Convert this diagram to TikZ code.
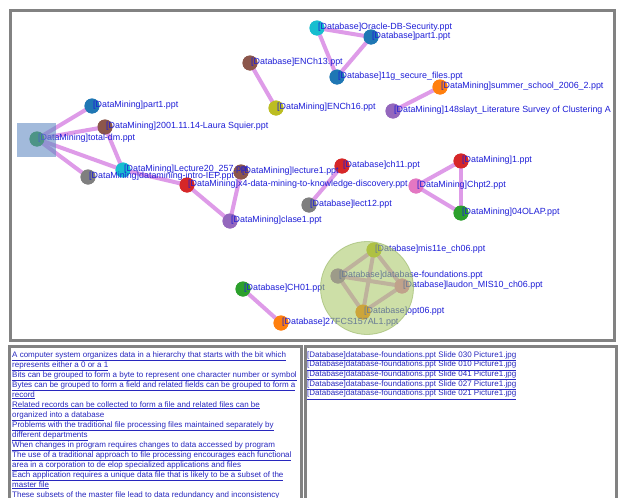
\documentclass[tikz,border=0pt]{standalone}
\usepackage{fontspec}
\setmainfont{Liberation Sans}
\definecolor{cblue}{HTML}{1F77B4}
\definecolor{cbrown}{HTML}{8C564B}
\definecolor{cgreen}{HTML}{2CA02C}
\definecolor{colive}{HTML}{BCBD22}
\definecolor{ccyan}{HTML}{17BECF}
\definecolor{corange}{HTML}{FF7F0E}
\definecolor{cpurple}{HTML}{9467BD}
\definecolor{cred}{HTML}{D62728}
\definecolor{cgray}{HTML}{7F7F7F}
\definecolor{cpink}{HTML}{E377C2}
\definecolor{framegray}{RGB}{130,130,130}
\definecolor{edgecol}{RGB}{222,155,232}
\definecolor{labelblue}{RGB}{30,30,215}
\definecolor{linkblue}{RGB}{40,40,190}
\definecolor{sqfill}{RGB}{100,140,195}
\definecolor{circfill}{RGB}{165,198,95}
\definecolor{circdraw}{RGB}{150,180,100}
\begin{document}
\begin{tikzpicture}[x=1pt,y=-1pt,
  frame/.style={draw=framegray,line width=3pt},
  edge/.style={draw=edgecol,line width=4pt,line cap=round},
  dot/.style={circle,minimum size=15pt,inner sep=0pt,fill=#1},
  lbl/.style={anchor=base west,inner sep=0pt,text=labelblue,font=\fontsize{8.9}{10}\selectfont},
  link/.style={anchor=base west,inner sep=0pt,text=linkblue,font=\fontsize{8}{10}\selectfont}]
\useasboundingbox (0,0) rectangle (619,498);
\fill[white] (0,0) rectangle (619,498);
% panels
\draw[frame] (10,10) rectangle (614,340);
\draw[frame] (9,346) rectangle (301,505);
\draw[frame] (305,346) rectangle (616,505);
\begin{scope}
\clip (12,12) rectangle (612,338);
% nodes
\node[dot=cgreen] (tdm) at (37,139) {};
\node[dot=cblue] (p1dm) at (92,106) {};
\node[dot=cbrown] (laura) at (105,127) {};
\node[dot=cbrown] (enc13) at (250,63) {};
\node[dot=colive] (enc16) at (276,108) {};
\node[dot=ccyan] (oracle) at (317,28) {};
\node[dot=cblue] (p1db) at (371,37) {};
\node[dot=cblue] (g11) at (337,77) {};
\node[dot=corange] (summer) at (440,87) {};
\node[dot=cpurple] (slayt) at (393,111) {};
\node[dot=ccyan] (lec20) at (123,170) {};
\node[dot=cgray] (intro) at (88,177) {};
\node[dot=cbrown] (lec1) at (241,172) {};
\node[dot=cred] (x4) at (187,185) {};
\node[dot=cpurple] (clase1) at (230,221) {};
\node[dot=cred] (ch11) at (342,166) {};
\node[dot=cgray] (lect12) at (309,205) {};
\node[dot=cpink] (chpt2) at (416,186) {};
\node[dot=cred] (one) at (461,161) {};
\node[dot=cgreen] (olap) at (461,213) {};
\node[dot=colive] (mis) at (374,250) {};
\node[dot=cpurple] (dbf) at (338,276) {};
\node[dot=cpink] (laudon) at (402,286) {};
\node[dot=corange] (opt) at (363,312) {};
\node[dot=cgreen] (ch01) at (243,289) {};
\node[dot=corange] (fcs) at (281,323) {};
% edges
\path[edge] (tdm.center) -- (p1dm.center);
\path[edge] (tdm.center) -- (laura.center);
\path[edge] (tdm.center) -- (lec20.center);
\path[edge] (tdm.center) -- (intro.center);
\path[edge] (laura.center) -- (lec20.center);
\path[edge] (lec20.center) -- (x4.center);
\path[edge] (x4.center) -- (clase1.center);
\path[edge] (clase1.center) -- (lec1.center);
\path[edge] (enc13.center) -- (enc16.center);
\path[edge] (oracle.center) -- (p1db.center);
\path[edge] (oracle.center) -- (g11.center);
\path[edge] (p1db.center) -- (g11.center);
\path[edge] (summer.center) -- (slayt.center);
\path[edge] (ch11.center) -- (lect12.center);
\path[edge] (chpt2.center) -- (one.center);
\path[edge] (chpt2.center) -- (olap.center);
\path[edge] (one.center) -- (olap.center);
\path[edge] (ch01.center) -- (fcs.center);
\path[edge] (mis.center) -- (dbf.center);
\path[edge] (mis.center) -- (laudon.center);
\path[edge] (mis.center) -- (opt.center);
\path[edge] (dbf.center) -- (laudon.center);
\path[edge] (dbf.center) -- (opt.center);
\path[edge] (laudon.center) -- (opt.center);
% redraw dots on top of edges
\foreach \n/\c in {tdm/cgreen,p1dm/cblue,laura/cbrown,enc13/cbrown,enc16/colive,oracle/ccyan,p1db/cblue,g11/cblue,summer/corange,slayt/cpurple,lec20/ccyan,intro/cgray,lec1/cbrown,x4/cred,clase1/cpurple,ch11/cred,lect12/cgray,chpt2/cpink,one/cred,olap/cgreen,mis/colive,dbf/cpurple,laudon/cpink,opt/corange,ch01/cgreen,fcs/corange}
  \fill[\c] (\n.center) circle (7.5);
% labels
\node[lbl] (ltdm) at ([xshift=1pt,yshift=-1.5pt]tdm.center) {[DataMining]total-dm.ppt};
\node[lbl] (lp1dm) at ([xshift=1pt,yshift=-1.5pt]p1dm.center) {[DataMining]part1.ppt};
\node[lbl] (llaura) at ([xshift=1pt,yshift=-1.5pt]laura.center) {[DataMining]2001.11.14-Laura Squier.ppt};
\node[lbl] (lenc13) at ([xshift=1pt,yshift=-1.5pt]enc13.center) {[Database]ENCh13.ppt};
\node[lbl] (lenc16) at ([xshift=1pt,yshift=-1.5pt]enc16.center) {[DataMining]ENCh16.ppt};
\node[lbl] (loracle) at ([xshift=1pt,yshift=-1.5pt]oracle.center) {[Database]Oracle-DB-Security.ppt};
\node[lbl] (lp1db) at ([xshift=1pt,yshift=-1.5pt]p1db.center) {[Database]part1.ppt};
\node[lbl] (lg11) at ([xshift=1pt,yshift=-1.5pt]g11.center) {[Database]11g\_secure\_files.ppt};
\node[lbl] (lsummer) at ([xshift=1pt,yshift=-1.5pt]summer.center) {[DataMining]summer\_school\_2006\_2.ppt};
\node[lbl] (lslayt) at ([xshift=1pt,yshift=-1.5pt]slayt.center) {[DataMining]148slayt\_Literature Survey of Clustering A};
\node[lbl] (llec20) at ([xshift=1pt,yshift=-1.5pt]lec20.center) {[DataMining]Lecture20\_257.ppt};
\node[lbl] (lintro) at ([xshift=1pt,yshift=-1.5pt]intro.center) {[DataMining]datamining-intro-IEP.ppt};
\node[lbl] (llec1) at ([xshift=1pt,yshift=-1.5pt]lec1.center) {[DataMining]lecture1.ppt};
\node[lbl] (lx4) at ([xshift=1pt,yshift=-1.5pt]x4.center) {[DataMining]x4-data-mining-to-knowledge-discovery.ppt};
\node[lbl] (lclase1) at ([xshift=1pt,yshift=-1.5pt]clase1.center) {[DataMining]clase1.ppt};
\node[lbl] (lch11) at ([xshift=1pt,yshift=-1.5pt]ch11.center) {[Database]ch11.ppt};
\node[lbl] (llect12) at ([xshift=1pt,yshift=-1.5pt]lect12.center) {[Database]lect12.ppt};
\node[lbl] (lchpt2) at ([xshift=1pt,yshift=-1.5pt]chpt2.center) {[DataMining]Chpt2.ppt};
\node[lbl] (lone) at ([xshift=1pt,yshift=-1.5pt]one.center) {[DataMining]1.ppt};
\node[lbl] (lolap) at ([xshift=1pt,yshift=-1.5pt]olap.center) {[DataMining]04OLAP.ppt};
\node[lbl] (lmis) at ([xshift=1pt,yshift=-1.5pt]mis.center) {[Database]mis11e\_ch06.ppt};
\node[lbl] (ldbf) at ([xshift=1pt,yshift=-1.5pt]dbf.center) {[Database]database-foundations.ppt};
\node[lbl] (llaudon) at ([xshift=1pt,yshift=-1.5pt]laudon.center) {[Database]laudon\_MIS10\_ch06.ppt};
\node[lbl] (lopt) at ([xshift=1pt,yshift=-1.5pt]opt.center) {[Database]opt06.ppt};
\node[lbl] (lch01) at ([xshift=1pt,yshift=-1.5pt]ch01.center) {[Database]CH01.ppt};
\node[lbl] (lfcs) at ([xshift=1pt,yshift=-1.5pt]fcs.center) {[Database]27FCS157AL1.ppt};
% highlights
\fill[sqfill,opacity=0.6] (17,123) rectangle (56,157);
\filldraw[fill=circfill,draw=circdraw,fill opacity=0.55,draw opacity=0.6,line width=0.8pt] (367,288) circle (46.5);
\end{scope}
% bottom left panel text
\begin{scope}
\clip (11,348) rectangle (299,498);
\foreach \t [count=\i from 0] in {
A computer system organizes data in a hierarchy that starts with the bit which,
represents either a 0 or a 1,
Bits can be grouped to form a byte to represent one character number or symbol,
Bytes can be grouped to form a field and related fields can be grouped to form a,
record,
Related records can be collected to form a file and related files can be,
organized into a database,
Problems with the traditional file processing files maintained separately by,
different departments,
When changes in program requires changes to data accessed by program,
The use of a traditional approach to file processing encourages each functional,
area in a corporation to de elop specialized applications and files,
Each application requires a unique data file that is likely to be a subset of the,
master file,
These subsets of the master file lead to data redundancy and inconsistency}
  \node[link] (ta\i) at (12,{357+10*\i}) {\underline{\t}};
\end{scope}
% bottom right panel text
\foreach \s [count=\i from 0] in {030,010,041,027,021}
  \node[link] (tb\i) at (307,{357+9.7*\i}) {\underline{[Database]database-foundations.ppt Slide \s\ Picture1.jpg}};
\end{tikzpicture}
\end{document}
